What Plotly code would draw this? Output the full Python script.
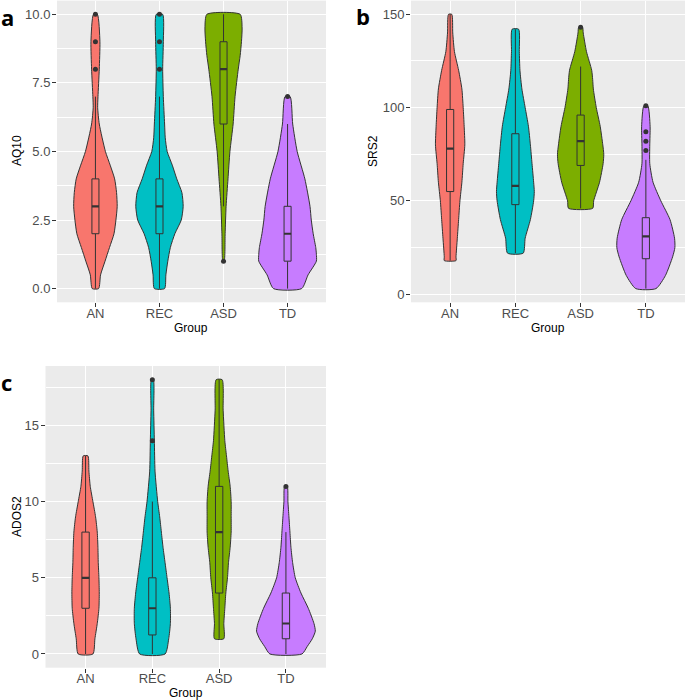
import plotly.graph_objects as go

groups = ["AN", "REC", "ASD", "TD"]
colors = ["#F8766D", "#00BFC4", "#7CAE00", "#C77CFF"]

# ---------- Panel a : AQ10 ----------
a_levels = {
    "AN":  [0, 0.5, 1, 1.5, 2, 2.5, 3, 3.5, 4, 4.5, 5, 6, 6.6, 7, 8, 9, 10],
    "REC": [0, 0.5, 1, 1.5, 2, 2.5, 3, 3.5, 4, 4.5, 5, 5.5, 6, 7, 8, 9, 10],
    "ASD": [1, 2, 3, 4, 5, 6, 7, 8, 8.5, 9, 9.5, 10],
    "TD":  [0, 0.5, 1, 1.25, 1.5, 2, 2.5, 3, 4, 5, 6, 7],
}
a_widths = {
    "AN":  [0.05, 0.08, 0.15, 0.22, 0.29, 0.32, 0.34, 0.33, 0.30, 0.23, 0.156, 0.06, 0.035, 0.04, 0.06, 0.07, 0.03],
    "REC": [0.08, 0.10, 0.13, 0.17, 0.24, 0.34, 0.37, 0.35, 0.27, 0.20, 0.12, 0.09, 0.08, 0.06, 0.05, 0.06, 0.05],
    "ASD": [0.01, 0.025, 0.04, 0.07, 0.10, 0.15, 0.18, 0.23, 0.26, 0.28, 0.29, 0.26],
    "TD":  [0.22, 0.32, 0.45, 0.45, 0.44, 0.40, 0.37, 0.35, 0.27, 0.15, 0.08, 0.04],
}
a_q1 = [2, 2, 6, 1]
a_med = [3, 3, 8, 2]
a_q3 = [4, 4, 9, 3]
a_lo = [0, 0, 3, 0]
a_hi = [7, 7, 10, 6]
a_out = {"AN": [8, 9, 10], "REC": [8, 9, 10], "ASD": [1], "TD": [7]}

# ---------- Panel b : SRS2 ----------
b_levels = {
    "AN":  [18, 20, 30, 40, 50, 60, 70, 80, 90, 100, 110, 120, 130, 140, 150],
    "REC": [22, 30, 40, 50, 55, 60, 70, 80, 90, 100, 110, 120, 130, 142],
    "ASD": [46, 50, 60, 70, 75, 80, 90, 100, 110, 115, 120, 130, 140, 143],
    "TD":  [3, 10, 20, 25, 30, 40, 50, 60, 70, 80, 90, 101],
}
b_widths = {
    "AN":  [0.09, 0.09, 0.11, 0.13, 0.15, 0.18, 0.20, 0.225, 0.215, 0.20, 0.18, 0.13, 0.066, 0.04, 0.025],
    "REC": [0.12, 0.15, 0.23, 0.28, 0.29, 0.28, 0.255, 0.23, 0.20, 0.15, 0.10, 0.07, 0.06, 0.05],
    "ASD": [0.185, 0.20, 0.29, 0.345, 0.355, 0.34, 0.30, 0.24, 0.195, 0.185, 0.17, 0.09, 0.04, 0.03],
    "TD":  [0.155, 0.30, 0.41, 0.445, 0.44, 0.37, 0.23, 0.11, 0.06, 0.06, 0.065, 0.03],
}
b_q1 = [55, 48, 69, 19]
b_med = [78, 58, 82, 31]
b_q3 = [99, 86, 96, 41]
b_lo = [18, 22, 46, 3]
b_hi = [150, 142, 122, 72]
b_out = {"AN": [], "REC": [], "ASD": [143], "TD": [77, 82, 87, 101]}

# ---------- Panel c : ADOS2 ----------
c_levels = {
    "AN":  [0, 1, 2, 3, 4, 5, 6, 7, 8, 9, 10, 11, 12, 13],
    "REC": [0, 1, 2, 3, 4, 5, 6, 7, 8, 9, 10, 12, 14, 16, 18],
    "ASD": [1, 2, 3, 4, 5, 6, 7, 8, 9, 10, 11, 12, 13, 14, 16, 18],
    "TD":  [0, 0.5, 1, 1.5, 2, 3, 4, 5, 6, 7, 8, 9, 10, 11],
}
c_widths = {
    "AN":  [0.11, 0.14, 0.175, 0.20, 0.205, 0.20, 0.19, 0.185, 0.175, 0.15, 0.11, 0.07, 0.05, 0.035],
    "REC": [0.19, 0.245, 0.27, 0.27, 0.25, 0.22, 0.19, 0.16, 0.135, 0.11, 0.08, 0.04, 0.03, 0.02, 0.015],
    "ASD": [0.07, 0.07, 0.085, 0.10, 0.125, 0.14, 0.165, 0.18, 0.18, 0.18, 0.165, 0.135, 0.11, 0.085, 0.06, 0.045],
    "TD":  [0.24, 0.32, 0.395, 0.44, 0.42, 0.335, 0.225, 0.14, 0.10, 0.075, 0.06, 0.045, 0.03, 0.02],
}
c_q1 = [3, 1.25, 4, 1]
c_med = [5, 3, 8, 2]
c_q3 = [8, 5, 11, 4]
c_lo = [0, 0, 1, 0]
c_hi = [13, 10, 18, 8]
c_out = {"AN": [], "REC": [14, 18], "ASD": [], "TD": [11]}

panels = [
    dict(levels=a_levels, widths=a_widths, q1=a_q1, med=a_med, q3=a_q3, lo=a_lo, hi=a_hi, out=a_out),
    dict(levels=b_levels, widths=b_widths, q1=b_q1, med=b_med, q3=b_q3, lo=b_lo, hi=b_hi, out=b_out),
    dict(levels=c_levels, widths=c_widths, q1=c_q1, med=c_med, q3=c_q3, lo=c_lo, hi=c_hi, out=c_out),
]

LINE = "#333333"
BOXW = 0.11
fig = go.Figure()

for p_i, P in enumerate(panels):
    xa = "x" if p_i == 0 else f"x{p_i+1}"
    ya = "y" if p_i == 0 else f"y{p_i+1}"
    for g_i, g in enumerate(groups):
        ys = P["levels"][g]
        ws = P["widths"][g]
        xs_poly = [g_i + w for w in ws] + [g_i - w for w in reversed(ws)]
        ys_poly = list(ys) + list(reversed(ys))
        xs_poly.append(xs_poly[0])
        ys_poly.append(ys_poly[0])
        fig.add_trace(go.Scatter(
            x=xs_poly, y=ys_poly, mode="lines", fill="toself",
            fillcolor=colors[g_i], line=dict(color=LINE, width=1, shape="spline", smoothing=0.6),
            xaxis=xa, yaxis=ya, showlegend=False, hoverinfo="skip"))
        q1, md, q3, lo, hi = P["q1"][g_i], P["med"][g_i], P["q3"][g_i], P["lo"][g_i], P["hi"][g_i]
        fig.add_trace(go.Scatter(
            x=[g_i, g_i, None, g_i, g_i], y=[lo, q1, None, q3, hi], mode="lines",
            line=dict(color=LINE, width=1), xaxis=xa, yaxis=ya,
            showlegend=False, hoverinfo="skip"))
        l, r = g_i - BOXW / 2, g_i + BOXW / 2
        fig.add_trace(go.Scatter(
            x=[l, r, r, l, l], y=[q1, q1, q3, q3, q1], mode="lines", fill="toself",
            fillcolor=colors[g_i], line=dict(color=LINE, width=1), xaxis=xa, yaxis=ya,
            showlegend=False, hoverinfo="skip"))
        fig.add_trace(go.Scatter(
            x=[l, r], y=[md, md], mode="lines",
            line=dict(color=LINE, width=2.2), xaxis=xa, yaxis=ya,
            showlegend=False, hoverinfo="skip"))
        if P["out"][g]:
            fig.add_trace(go.Scatter(
                x=[g_i] * len(P["out"][g]), y=P["out"][g], mode="markers",
                marker=dict(color=LINE, size=5), xaxis=xa, yaxis=ya,
                showlegend=False, hoverinfo="skip"))

W, H = 685, 700
def dx(a, b):
    return [a / W, b / W]
def dy(top, bottom):
    return [1 - bottom / H, 1 - top / H]

tickfont = dict(family="Liberation Sans, Arial", size=13, color="#4D4D4D")
xcommon = dict(range=[-0.6, 3.6], tickvals=[0, 1, 2, 3], ticktext=groups,
               showgrid=True, gridcolor="white", gridwidth=1.1, zeroline=False,
               ticks="outside", ticklen=4, tickcolor=LINE, tickwidth=1,
               tickfont=tickfont, showline=False, automargin=False, ticklabelstandoff=-5)
ycommon = dict(showgrid=True, gridcolor="white", gridwidth=1.1, zeroline=False,
               ticks="outside", ticklen=4, tickcolor=LINE, tickwidth=1,
               tickfont=tickfont, showline=False, automargin=False, ticklabelstandoff=-1)

fig.update_layout(
    width=W, height=H, margin=dict(l=0, r=0, t=0, b=0, autoexpand=False),
    paper_bgcolor="white", plot_bgcolor="#EBEBEB", showlegend=False,
    xaxis=dict(domain=dx(57, 326), anchor="y", **xcommon),
    yaxis=dict(domain=dy(0.6, 302.3), anchor="x", range=[-0.5, 10.5], tick0=0, dtick=2.5,
               tickformat=".1f", minor=dict(showgrid=True, gridcolor="white", gridwidth=0.5, dtick=1.25, tick0=0, ticks=""),
               **ycommon),
    xaxis2=dict(domain=dx(411, 685), anchor="y2", **xcommon),
    yaxis2=dict(domain=dy(0.6, 302.3), anchor="x2", range=[-4.35, 157.35], tick0=0, dtick=50,
                minor=dict(showgrid=True, gridcolor="white", gridwidth=0.5, dtick=25, tick0=0, ticks=""),
                **ycommon),
    xaxis3=dict(domain=dx(45.5, 326), anchor="y3", **xcommon),
    yaxis3=dict(domain=dy(366, 667.7), anchor="x3", range=[-0.9, 18.9], tick0=0, dtick=5,
                minor=dict(showgrid=True, gridcolor="white", gridwidth=0.5, dtick=2.5, tick0=0, ticks=""),
                **ycommon),
)

titlefont = dict(family="Liberation Sans, Arial", size=12, color="black")
labfont = dict(family="Open Sans, Noto Sans", size=22, color="black")
ann = [
    dict(text="Group", x=191 / W, y=1 - 328 / H),
    dict(text="Group", x=548 / W, y=1 - 328 / H),
    dict(text="Group", x=186 / W, y=1 - 693 / H),
    dict(text="AQ10", x=17 / W, y=1 - 151 / H, textangle=-90),
    dict(text="SRS2", x=373 / W, y=1 - 151 / H, textangle=-90),
    dict(text="ADOS2", x=17 / W, y=1 - 517 / H, textangle=-90),
]
for a in ann:
    fig.add_annotation(xref="paper", yref="paper", showarrow=False,
                       xanchor="center", yanchor="middle", font=titlefont, **a)
for t, x, y in [("a", 7, 17), ("b", 363, 16), ("c", 6, 382)]:
    fig.add_annotation(xref="paper", yref="paper", showarrow=False, text=f"<b>{t}</b>",
                       x=x / W, y=1 - y / H, xanchor="center", yanchor="middle", font=labfont)

fig.write_html("out.html", config={"displayModeBar": False},
               post_script="document.body.style.margin='0';document.body.style.overflow='hidden';")
